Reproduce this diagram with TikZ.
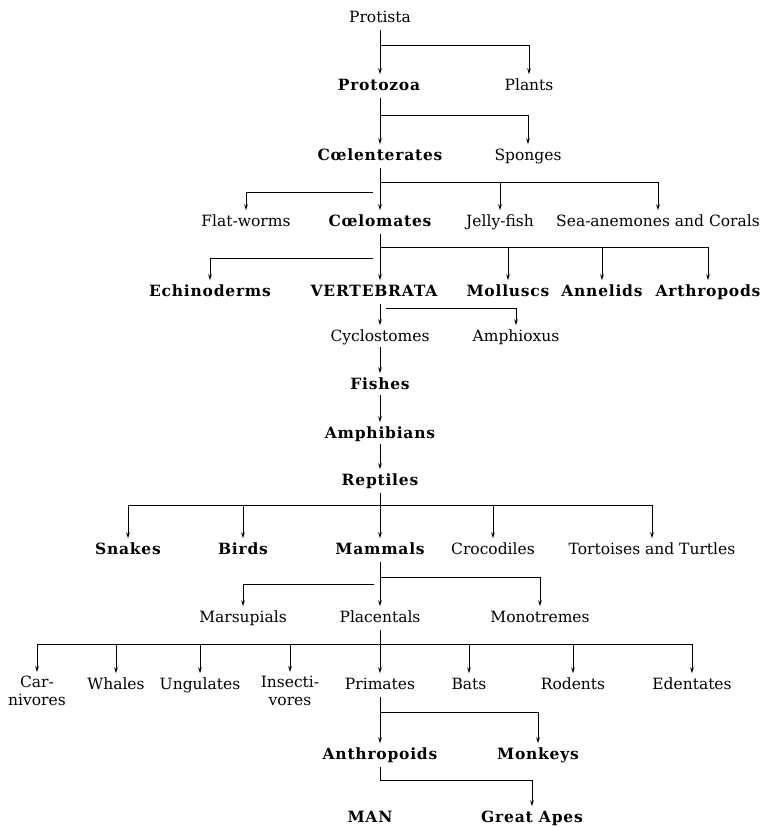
\documentclass[tikz,border=0pt]{standalone}
\usepackage{fontspec}
\setmainfont{DejaVu Serif}[BoldFeatures={LetterSpace=5}]
\usepackage{tikz}
\usetikzlibrary{arrows.meta}

\begin{document}
\begin{tikzpicture}[
  x=1pt,y=-1pt,
  >={Stealth[length=6pt,width=3.6pt]},
  every node/.style={font=\fontsize{15.5}{18}\selectfont,inner sep=2pt,
    text height=11.5pt,text depth=3.5pt},
  taxon/.style={},
  major/.style={font=\fontsize{15.5}{18}\selectfont\bfseries},
  twoline/.style={align=center,anchor=north,text height=,text depth=},
  link/.style={line width=0.9pt,shorten <=2pt},
  arr/.style={->,line width=0.9pt,shorten >=2pt}
]
  \useasboundingbox (0,0) rectangle (763,827);

  % labels
  \node[taxon] (protista) at (380,18) {Protista};
  \node[major] (protozoa) at (379,86) {Protozoa};
  \node[taxon] (plants) at (529,86) {Plants};
  \node[major] (coelent) at (380,156) {Cœlenterates};
  \node[taxon] (sponges) at (528,156) {Sponges};
  \node[taxon] (flatworms) at (246,222) {Flat-worms};
  \node[major] (coelom) at (380,222) {Cœlomates};
  \node[taxon] (jelly) at (500,222) {Jelly-fish};
  \node[taxon] (anemones) at (658,222) {Sea-anemones and Corals};
  \node[major] (echino) at (210,292) {Echinoderms};
  \node[major] (vert) at (374,292) {VERTEBRATA};
  \node[major] (molluscs) at (508,292) {Molluscs};
  \node[major] (annelids) at (602,292) {Annelids};
  \node[major] (arthro) at (708,292) {Arthropods};
  \node[taxon] (cyclo) at (380,337) {Cyclostomes};
  \node[taxon] (amphi) at (516,337) {Amphioxus};
  \node[major] (fishes) at (380,385) {Fishes};
  \node[major] (amphib) at (380,434) {Amphibians};
  \node[major] (reptiles) at (380,481) {Reptiles};
  \node[major] (snakes) at (128,550) {Snakes};
  \node[major] (birds) at (243,550) {Birds};
  \node[major] (mammals) at (380,550) {Mammals};
  \node[taxon] (croc) at (493,550) {Crocodiles};
  \node[taxon] (tortoise) at (652,550) {Tortoises and Turtles};
  \node[taxon] (marsup) at (243,618) {Marsupials};
  \node[taxon] (placent) at (380,618) {Placentals};
  \node[taxon] (monot) at (540,618) {Monotremes};
  \node[taxon,twoline] (carniv) at (37,674) {Car-\\nivores};
  \node[taxon] (whales) at (116,685) {Whales};
  \node[taxon] (ungul) at (200,685) {Ungulates};
  \node[taxon,twoline] (insect) at (290,674) {Insecti-\\vores};
  \node[taxon] (primates) at (380,685) {Primates};
  \node[taxon] (bats) at (469,685) {Bats};
  \node[taxon] (rodents) at (573,685) {Rodents};
  \node[taxon] (edent) at (692,685) {Edentates};
  \node[major] (anthrop) at (380,755) {Anthropoids};
  \node[major] (monkeys) at (538,755) {Monkeys};
  \node[major] (man) at (370,818) {MAN};
  \node[major] (apes) at (532,818) {Great Apes};

  % junctions
  \coordinate (jProtista) at (380,45);
  \coordinate (jProtozoa) at (380,115);
  \coordinate (jCoelent) at (380,182);
  \coordinate (jCoelentL) at (373,192);
  \coordinate (jCoelom) at (380,247);
  \coordinate (jCoelomL) at (373,258);
  \coordinate (jVert) at (386,308);
  \coordinate (jRept) at (380,505);
  \coordinate (jMamm) at (380,577);
  \coordinate (jMammL) at (374,584);
  \coordinate (jPlac) at (380,644);
  \coordinate (jPrim) at (380,712);
  \coordinate (jAnth) at (380,780);

  % connectors
  \draw[link] (protista) -- (jProtista);
  \draw[arr] (jProtista) -- (protozoa.north -| jProtista);
  \draw[arr] (jProtista) -| (plants);

  \draw[link] (protozoa.south -| jProtozoa) -- (jProtozoa);
  \draw[arr] (jProtozoa) -- (coelent);
  \draw[arr] (jProtozoa) -| (sponges);

  \draw[link] (coelent) -- (jCoelent);
  \draw[arr] (jCoelent) -- (coelom);
  \draw[arr] (jCoelent) -| (jelly);
  \draw[arr] (jCoelent) -| (anemones);
  \draw[arr] (jCoelentL) -| (flatworms);

  \draw[link] (coelom) -- (jCoelom);
  \draw[arr] (jCoelom) -- (vert.north -| jCoelom);
  \draw[arr] (jCoelom) -| (molluscs);
  \draw[arr] (jCoelom) -| (annelids);
  \draw[arr] (jCoelom) -| (arthro);
  \draw[arr] (jCoelomL) -| (echino);

  \draw[arr,shorten <=2pt] (vert.south -| cyclo) -- (cyclo);
  \draw[arr] (jVert) -| (amphi);
  \draw[arr] (cyclo) -- (fishes);
  \draw[arr] (fishes) -- (amphib);
  \draw[arr] (amphib) -- (reptiles);

  \draw[link] (reptiles) -- (jRept);
  \foreach \t in {snakes,birds,mammals,croc,tortoise}
    \draw[arr] (jRept) -| (\t);

  \draw[link] (mammals) -- (jMamm);
  \draw[arr] (jMamm) -- (placent);
  \draw[arr] (jMamm) -| (monot);
  \draw[arr] (jMammL) -| (marsup);

  \draw[link] (placent) -- (jPlac);
  \foreach \t in {carniv,whales,ungul,insect,primates,bats,rodents,edent}
    \draw[arr] (jPlac) -| (\t);

  \draw[link] (primates) -- (jPrim);
  \draw[arr] (jPrim) -- (anthrop);
  \draw[arr] (jPrim) -| (monkeys);

  \draw[link] (anthrop) -- (jAnth);
  \draw[arr] (jAnth) -| (apes);
\end{tikzpicture}
\end{document}
